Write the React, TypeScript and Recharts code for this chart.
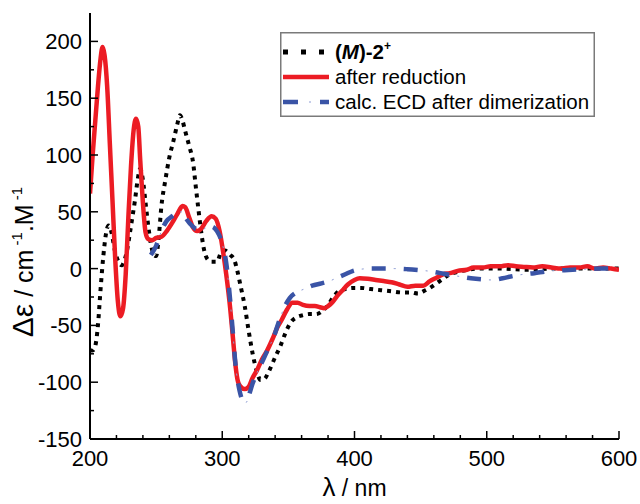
import React from 'react';
import { LineChart, Line, XAxis, YAxis, Legend } from 'recharts';

const FONT = '"Liberation Sans", Arial, Helvetica, sans-serif';

// (M)-2+ : black dotted
const mNm = [200, 202, 204, 206, 208, 210, 212, 214, 216, 219, 222, 224, 226, 228, 230, 232, 234, 236, 238, 240, 242, 244, 246, 248, 250, 252, 254, 257, 260, 263, 266, 268, 270, 272, 275, 278, 280, 282, 284, 286, 289, 292, 296, 299, 302, 306, 309, 311, 314, 317, 320, 323, 326, 329, 332, 335, 340, 344, 348, 352, 356, 361, 366, 371, 376, 380, 384, 388, 393, 399, 405, 412, 420, 428, 436, 443, 448, 452, 457, 462, 467, 472, 478, 485, 495, 510, 530, 550, 570, 585, 600];
const mDe = [-72, -72, -68, -50, -18, 10, 30, 38, 33, 15, 5, 3, 7, 16, 30, 45, 60, 78, 88, 78, 58, 38, 22, 13, 11, 28, 55, 78, 98, 112, 127, 135, 130, 121, 108, 93, 72, 52, 33, 18, 8, 6, 6, 14, 16, 12, 8, 0, -16, -33, -55, -75, -90, -98, -97, -91, -78, -68, -56, -47, -43, -41, -40, -40, -37, -32, -25, -20, -18, -17, -17, -18, -19, -20, -21, -21, -22, -20, -17, -13, -9, -5, -3, -1, 0, 0, -1, 0, 0, 0, 0];

// after reduction : red solid
const redNm = [200, 202, 204, 206, 208, 209.5, 211, 213, 215, 217, 219, 221, 223, 225, 227, 229, 231, 233, 234.8, 236.5, 238, 240, 242, 244, 247, 250, 254, 258, 262, 266, 270, 272, 275, 278, 281, 284, 288, 292, 295, 298, 301, 303, 306, 308, 310, 312, 314, 317, 320, 323, 326, 330, 334, 338, 342, 345, 349, 353, 357, 361, 366, 370, 374, 377, 380, 383, 387, 391, 395, 400, 404, 410, 416, 422, 428, 434, 440, 446, 452, 457, 462, 467, 472, 478, 485, 490, 497, 503, 510, 516, 522, 528, 535, 542, 549, 556, 563, 570, 576, 582, 588, 594, 600];
const redDe = [66, 100, 130, 160, 185, 195, 188, 160, 110, 60, 10, -28, -42, -35, -5, 45, 90, 122, 132, 125, 95, 58, 32, 26, 25, 27, 28, 33, 40, 48, 55, 54, 45, 36, 33, 35, 42, 46, 44, 33, 12, -5, -35, -60, -85, -100, -104, -106, -104, -96, -90, -80, -72, -62, -51, -45, -36, -30, -30, -32, -33, -33, -34, -35, -33, -30, -24, -19, -14, -10, -8.5, -9, -10, -11, -12, -14, -16, -15, -15, -11, -8, -5, -4, -2, -1, 1, 1, 2, 2, 3, 2, 1.5, 1, 2, 1, 0, 1, 1, 2, 0, 1, 0, -1];

// calc. ECD after dimerization : blue dash-dot
const calcNm = [246, 250, 254, 258, 262, 266, 269, 272, 276, 280, 284, 288, 292, 296, 300, 303, 306, 308, 310, 313, 316, 318, 320, 323, 327, 331, 335, 339, 343, 347, 351, 356, 362, 368, 375, 381, 387, 393, 399, 405, 412, 420, 430, 440, 450, 458, 465, 472, 480, 488, 496, 504, 512, 520, 528, 536, 545, 555, 565, 575, 585, 598];
const calcDe = [12, 20, 33, 42, 46, 49, 50, 45, 39, 35, 34, 36, 37, 33, 22, 5, -28, -56, -84, -107, -117, -118, -112, -101, -90, -80, -70, -60, -46, -34, -26, -21, -18, -15, -13, -11, -8, -5, -2, -0.5, 0, 0, 0, -0.5, -1.5, -2.5, -4, -5.5, -7, -8.5, -9.5, -10, -8.5, -6.5, -5, -4, -2.5, -1.5, -1, -0.5, 0, 0];

const xTicks = [200, 220, 240, 260, 280, 300, 320, 340, 360, 380, 400, 420, 440, 460, 480, 500, 520, 540, 560, 580, 600];
const xLabeled = [200, 300, 400, 500, 600];
const yTicks = [-150, -125, -100, -75, -50, -25, 0, 25, 50, 75, 100, 125, 150, 175, 200];
const yLabeled = [-150, -100, -50, 0, 50, 100, 150, 200];

const toPts = (xs: number[], ys: number[]) => xs.map((x, i) => ({ x, y: ys[i] }));
const mData = toPts(mNm, mDe);
const redData = toPts(redNm, redDe);
const calcData = toPts(calcNm, calcDe);

const BLACK = '#000000';
const RED = '#ec1c24';
const BLUE = '#3a54a6';
const BLUE_THIN = '#8c9bd3';

const BottomTick = (p: any) => {
  const v = p.payload.value;
  const major = xLabeled.includes(v);
  return (
    <g>
      <line x1={p.x} y1={p.y} x2={p.x} y2={p.y - (major ? 8 : 4)} stroke="#000" strokeWidth={1.5} />
      {major && (
        <text x={p.x} y={p.y + 27} textAnchor="middle" fontSize={22} fontFamily={FONT} fill="#000">
          {String(v)}
        </text>
      )}
    </g>
  );
};

const TopTick = (p: any) => {
  const v = p.payload.value;
  const major = xLabeled.includes(v);
  return <line x1={p.x} y1={p.y} x2={p.x} y2={p.y + (major ? 8 : 4)} stroke="#000" strokeWidth={1.5} />;
};

const LeftTick = (p: any) => {
  const v = p.payload.value;
  const major = yLabeled.includes(v);
  return (
    <g>
      <line x1={p.x} y1={p.y} x2={p.x + (major ? 8 : 4)} y2={p.y} stroke="#000" strokeWidth={1.5} />
      {major && (
        <text x={p.x - 8} y={p.y + 8} textAnchor="end" fontSize={22} fontFamily={FONT} fill="#000">
          {String(v)}
        </text>
      )}
    </g>
  );
};

const RightTick = (p: any) => {
  const v = p.payload.value;
  const major = yLabeled.includes(v);
  return <line x1={p.x} y1={p.y} x2={p.x - (major ? 8 : 4)} y2={p.y} stroke="#000" strokeWidth={1.5} />;
};

const XTitle = (props: any) => {
  const vb = props.viewBox || { x: 90, y: 439, width: 529, height: 65 };
  const cx = vb.x + vb.width / 2;
  return (
    <text x={cx} y={vb.y + 57} textAnchor="middle" fontFamily={FONT} fill="#000">
      <tspan fontSize={26}>λ</tspan>
      <tspan fontSize={23}> / nm</tspan>
    </text>
  );
};

const YTitle = (props: any) => {
  const vb = props.viewBox || { x: 0, y: 13, width: 90, height: 426 };
  const cx = vb.x + 33;
  const cy = vb.y + vb.height / 2 + 36;
  return (
    <text x={cx} y={cy} transform={`rotate(-90 ${cx} ${cy})`} textAnchor="middle" fontFamily={FONT} fill="#000">
      <tspan fontSize={30}>Δε</tspan>
      <tspan fontSize={25}> / cm</tspan>
      <tspan fontSize={15} dy={-11}> -1</tspan>
      <tspan fontSize={25} dy={11}>.M</tspan>
      <tspan fontSize={15} dy={-11}> -1</tspan>
    </text>
  );
};

const LegendBox = () => (
  <svg width={315} height={85} style={{ display: 'block' }}>
    <rect x={0.75} y={0.75} width={313.5} height={83.5} fill="#fff" stroke="#7a7a7a" strokeWidth={1.5} />
    <line x1={3} y1={20} x2={49} y2={20} stroke={BLACK} strokeWidth={5} strokeDasharray="5 13" />
    <text x={55} y={27} fontSize={20.5} fontFamily={FONT} fontWeight="bold" fill="#000">
      <tspan>(</tspan>
      <tspan fontStyle="italic">M</tspan>
      <tspan>)-2</tspan>
      <tspan fontSize={12} dy={-9}>+</tspan>
    </text>
    <line x1={3} y1={45} x2={49} y2={45} stroke={RED} strokeWidth={4.5} />
    <text x={55} y={52} fontSize={20.5} fontFamily={FONT} fill="#000">after reduction</text>
    <line x1={3} y1={70} x2={49} y2={70} stroke={BLUE} strokeWidth={4.5} strokeDasharray="15 22" />
    <line x1={3} y1={70} x2={49} y2={70} stroke={BLUE_THIN} strokeWidth={1} strokeDasharray="0 26 2 9" />
    <text x={55} y={77} fontSize={20.5} fontFamily={FONT} fill="#000">calc. ECD after dimerization</text>
  </svg>
);

export default function App() {
  return (
    <div style={{ width: 640, height: 504, background: '#fff' }}>
      <style>{`body{margin:0;}`}</style>
      <LineChart width={640} height={504} margin={{ top: 13, right: 21, left: 0, bottom: 0 }}>
        <XAxis
          xAxisId="b"
          dataKey="x"
          type="number"
          domain={[200, 600]}
          ticks={xTicks}
          interval={0}
          allowDataOverflow
          orientation="bottom"
          height={65}
          tickSize={0}
          tickMargin={0}
          tickLine={false}
          axisLine={{ stroke: '#000', strokeWidth: 2 }}
          tick={<BottomTick />}
          label={(props: any) => <XTitle {...props} />}
        />
        <XAxis
          xAxisId="t"
          dataKey="x"
          type="number"
          domain={[200, 600]}
          ticks={xTicks}
          interval={0}
          allowDataOverflow
          orientation="top"
          height={0}
          tickSize={0}
          tickMargin={0}
          tickLine={false}
          axisLine={{ stroke: '#000', strokeWidth: 2 }}
          tick={<TopTick />}
        />
        <YAxis
          yAxisId="l"
          type="number"
          domain={[-150, 225]}
          ticks={yTicks}
          interval={0}
          allowDataOverflow
          orientation="left"
          width={90}
          tickSize={0}
          tickMargin={0}
          tickLine={false}
          axisLine={{ stroke: '#000', strokeWidth: 2 }}
          tick={<LeftTick />}
          label={(props: any) => <YTitle {...props} />}
        />
        <YAxis
          yAxisId="r"
          type="number"
          domain={[-150, 225]}
          ticks={yTicks}
          interval={0}
          allowDataOverflow
          orientation="right"
          width={0}
          tickSize={0}
          tickMargin={0}
          tickLine={false}
          axisLine={{ stroke: '#000', strokeWidth: 2 }}
          tick={<RightTick />}
        />
        <Line
          xAxisId="b"
          yAxisId="l"
          data={mData}
          dataKey="y"
          type="monotone"
          stroke={BLACK}
          strokeWidth={4}
          strokeDasharray="4 5"
          dot={false}
          isAnimationActive={false}
        />
        <Line
          xAxisId="b"
          yAxisId="l"
          data={redData}
          dataKey="y"
          type="monotone"
          stroke={RED}
          strokeWidth={4.5}
          dot={false}
          isAnimationActive={false}
        />
        <Line
          xAxisId="b"
          yAxisId="l"
          data={calcData}
          dataKey="y"
          type="monotone"
          stroke={BLUE}
          strokeWidth={4.5}
          strokeDasharray="14 18"
          dot={false}
          isAnimationActive={false}
        />
        <Line
          xAxisId="b"
          yAxisId="l"
          data={calcData}
          dataKey="y"
          type="monotone"
          stroke={BLUE_THIN}
          strokeWidth={1}
          strokeDasharray="0 22 2 8"
          dot={false}
          isAnimationActive={false}
        />
        <Legend
          layout="horizontal"
          verticalAlign="middle"
          align="center"
          content={() => <LegendBox />}
          wrapperStyle={{ position: 'absolute', left: 280, top: 32, width: 315, height: 85, margin: 0, padding: 0 }}
        />
      </LineChart>
    </div>
  );
}
